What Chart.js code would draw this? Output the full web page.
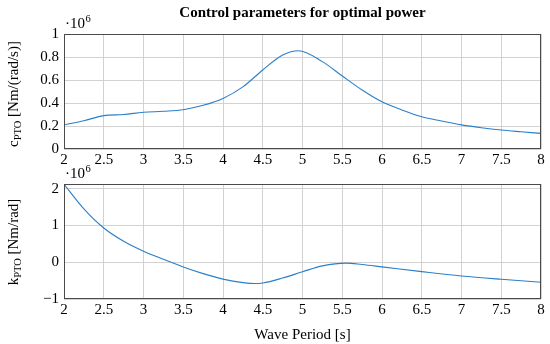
<!DOCTYPE html>
<html lang="en">
<head>
    <meta charset="UTF-8">
    <title>Control parameters for optimal power</title>
    <script src="https://cdn.jsdelivr.net/npm/chart.js"></script>
    <style>
        body {
            margin: 0;
            padding: 0;
            background-color: #fff;
        }

        .panel {
            position: absolute;
            left: 0;
            width: 550px;
        }
    </style>
</head>
<body>
<div class="panel" style="top:0;height:172px"><canvas id="topChart" width="550" height="172"></canvas></div>
<div class="panel" style="top:156px;height:188px"><canvas id="bottomChart" width="550" height="188"></canvas></div>

<script>
    // Wave period [s] and damping c_PTO (x 10^6)
    const periodTop = [2, 2.25, 2.5, 2.75, 3, 3.25, 3.5, 3.75, 4, 4.25, 4.5, 4.75, 4.95, 5.25, 5.5, 5.75, 6, 6.25, 6.5, 6.75, 7, 7.25, 7.5, 7.75, 8];
    const cPto = [0.209, 0.246, 0.29, 0.30, 0.319, 0.328, 0.342, 0.38, 0.44, 0.54, 0.687, 0.817, 0.855, 0.76, 0.635, 0.513, 0.41, 0.34, 0.28, 0.243, 0.21, 0.185, 0.165, 0.15, 0.136];

    // Wave period [s] and stiffness k_PTO (x 10^6)
    const periodBottom = [2, 2.25, 2.5, 2.75, 3, 3.25, 3.5, 3.75, 4, 4.25, 4.4, 4.5, 4.75, 5, 5.25, 5.55, 5.75, 6, 6.5, 7, 7.5, 8];
    const kPto = [2.12, 1.45, 0.93, 0.57, 0.30, 0.08, -0.13, -0.31, -0.46, -0.555, -0.58, -0.565, -0.43, -0.26, -0.1, -0.025, -0.064, -0.127, -0.255, -0.373, -0.464, -0.545];

    // tick labels
    const xTicks = [2, 2.5, 3, 3.5, 4, 4.5, 5, 5.5, 6, 6.5, 7, 7.5, 8];
    const yTicksTop = [0, 0.2, 0.4, 0.6, 0.8, 1];
    const yTicksBottom = [-1, 0, 1, 2];

    const serif = '"Liberation Serif", "Times New Roman", serif';
    const lineColor = '#2a7fc9';
    const gridColor = '#d2d2d2';
    const frameColor = '#4a4a4a';

    const fmt = v => String(v).replace('-', '\u2212');

    // frame, title, exponent and axis labels drawn on top
    const decor = {
        id: 'decor',
        afterDraw(chart, args, opts) {
            const ctx = chart.ctx;
            const a = chart.chartArea;
            ctx.save();
            ctx.strokeStyle = frameColor;
            ctx.lineWidth = 1;
            ctx.strokeRect(Math.round(a.left) + 0.5, Math.round(a.top) + 0.5,
                Math.round(a.right - a.left) - 1, Math.round(a.bottom - a.top) - 1);

            ctx.fillStyle = '#000';
            ctx.textBaseline = 'alphabetic';

            // ·10^6
            ctx.textAlign = 'left';
            ctx.font = '15px ' + serif;
            ctx.fillText('·10', a.left + 1, a.top - 6);
            const w = ctx.measureText('·10').width;
            ctx.font = '10.5px ' + serif;
            ctx.fillText('6', a.left + 1 + w + 0.5, a.top - 12);

            if (opts.title) {
                ctx.font = 'bold 15px ' + serif;
                ctx.textAlign = 'center';
                ctx.fillText(opts.title, (a.left + a.right) / 2, 17);
            }

            if (opts.xTitle) {
                ctx.font = '15px ' + serif;
                ctx.textAlign = 'center';
                ctx.fillText(opts.xTitle, (a.left + a.right) / 2, a.bottom + 40);
            }

            // rotated y title with subscript
            const parts = [
                { t: opts.yMain, f: '15px ' + serif, dy: 0 },
                { t: 'PTO', f: '10.5px ' + serif, dy: 3 },
                { t: ' ' + opts.yUnit, f: '15px ' + serif, dy: 0 }
            ];
            let total = 0;
            parts.forEach(p => { ctx.font = p.f; p.w = ctx.measureText(p.t).width; total += p.w; });
            ctx.translate(18, opts.yCenter);
            ctx.rotate(-Math.PI / 2);
            ctx.textAlign = 'left';
            let x = -total / 2;
            parts.forEach(p => {
                ctx.font = p.f;
                ctx.fillText(p.t, x, p.dy);
                x += p.w;
            });
            ctx.restore();
        }
    };

    function makeChart(id, xs, ys, yMin, yMax, yTicks, pad, xHeight, decorOpts) {
        const points = xs.map((x, i) => ({ x: x, y: ys[i] }));
        return new Chart(document.getElementById(id), {
            type: 'line',
            data: {
                datasets: [{
                    data: points,
                    borderColor: lineColor,
                    borderWidth: 1.1,
                    pointRadius: 0,
                    cubicInterpolationMode: 'monotone',
                    fill: false
                }]
            },
            options: {
                responsive: false,
                animation: false,
                layout: { padding: { top: pad, right: 9, left: 0, bottom: 0 } },
                plugins: {
                    legend: { display: false },
                    tooltip: { enabled: false },
                    decor: decorOpts
                },
                scales: {
                    x: {
                        type: 'linear',
                        min: 2,
                        max: 8,
                        afterBuildTicks: s => { s.ticks = xTicks.map(v => ({ value: v })); },
                        afterFit: s => { s.height = xHeight; },
                        ticks: {
                            color: '#000',
                            font: { family: serif, size: 15 },
                            padding: 2,
                            maxRotation: 0,
                            autoSkip: false,
                            callback: fmt
                        },
                        grid: { color: gridColor, drawTicks: false },
                        border: { display: false }
                    },
                    y: {
                        min: yMin,
                        max: yMax,
                        afterBuildTicks: s => { s.ticks = yTicks.map(v => ({ value: v })); },
                        afterFit: s => { s.width = 64; },
                        ticks: {
                            color: '#000',
                            font: { family: serif, size: 15 },
                            padding: 5,
                            callback: fmt
                        },
                        grid: { color: gridColor, drawTicks: false },
                        border: { display: false }
                    }
                }
            },
            plugins: [decor]
        });
    }

    makeChart('topChart', periodTop, cPto, 0, 1, yTicksTop, 34, 23, {
        title: 'Control parameters for optimal power',
        yMain: 'c',
        yUnit: '[Nm/(rad/s)]',
        yCenter: 94
    });

    makeChart('bottomChart', periodBottom, kPto, -1, 2.125, yTicksBottom, 28, 45, {
        xTitle: 'Wave Period [s]',
        yMain: 'k',
        yUnit: '[Nm/rad]',
        yCenter: 86
    });
</script>
</body>
</html>
